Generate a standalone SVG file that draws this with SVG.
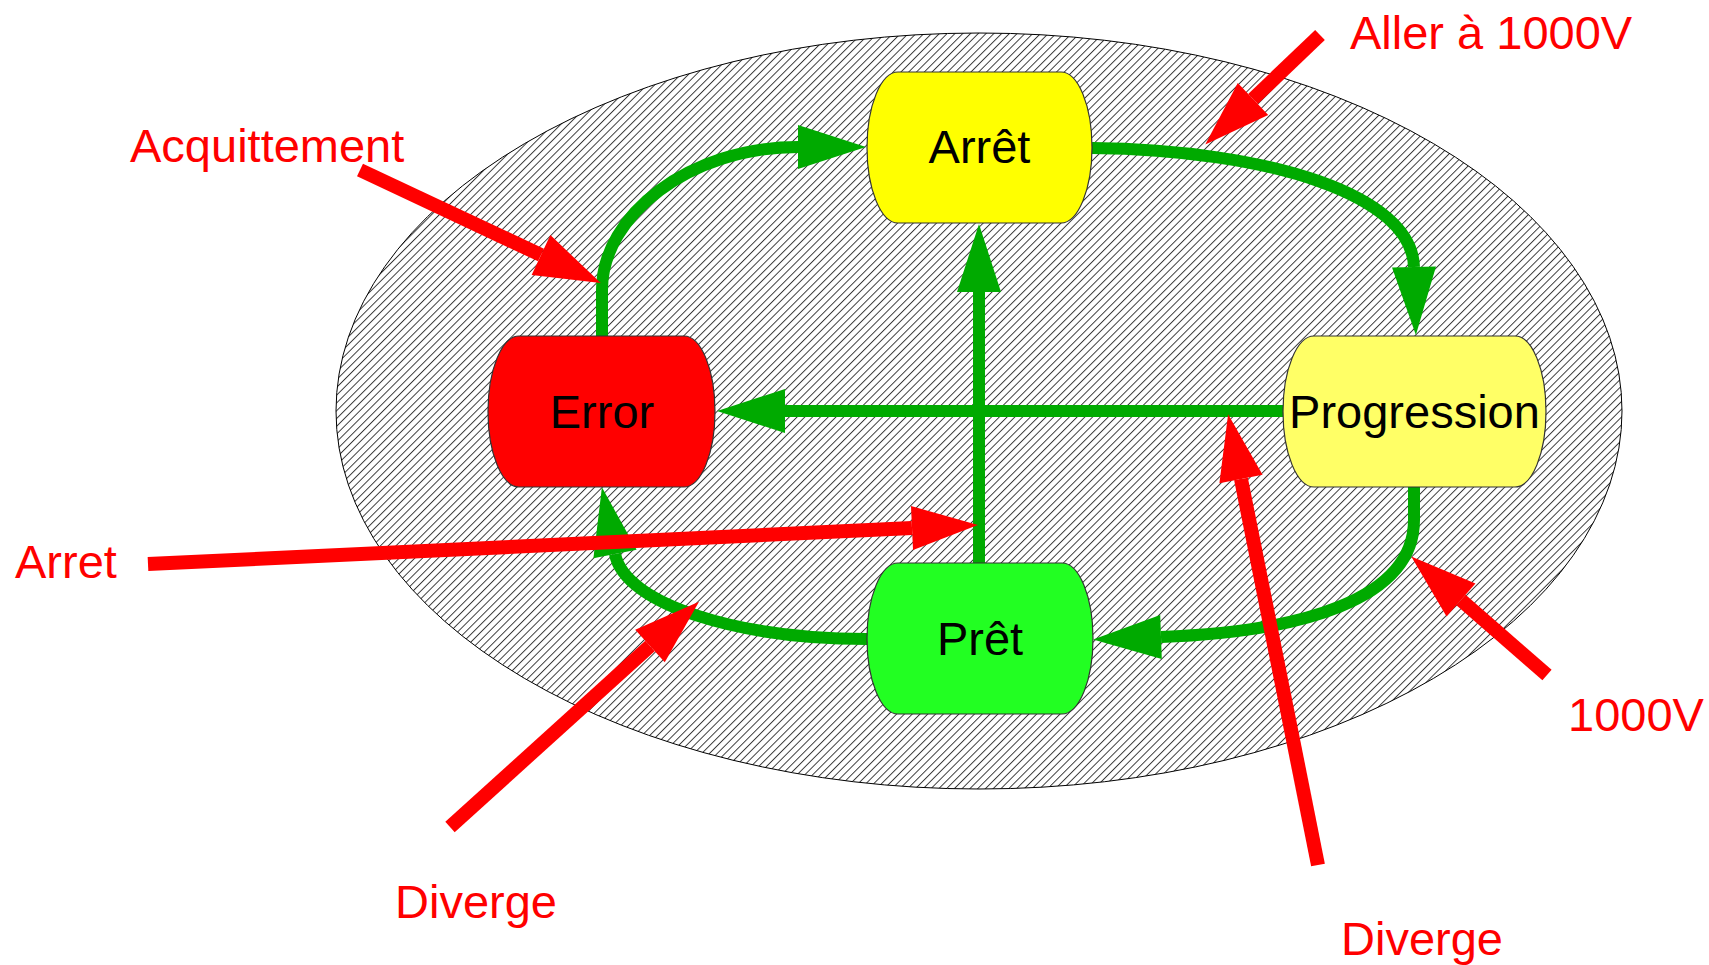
<svg xmlns="http://www.w3.org/2000/svg" width="1709" height="965" viewBox="0 0 1709 965">
  <defs>
    <pattern id="hatch" patternUnits="userSpaceOnUse" width="5.5" height="5.5" patternTransform="rotate(-45)">
      <rect width="5.5" height="5.5" fill="#ffffff"/>
      <line x1="-1" y1="0.5" x2="6.5" y2="0.5" stroke="#000000" stroke-width="0.75"/>
    </pattern>
    <marker id="g-head" markerUnits="userSpaceOnUse" markerWidth="70" markerHeight="46" refX="0" refY="22" orient="auto" overflow="visible">
      <path d="M0,0 L68,22 L0,44 Z" fill="#00aa00"/>
    </marker>
    <marker id="r-head" markerUnits="userSpaceOnUse" markerWidth="70" markerHeight="46" refX="0" refY="22" orient="auto" overflow="visible">
      <path d="M0,0 L66,22 L0,44 Z" fill="#ff0000"/>
    </marker>
  </defs>
  <style>
    .state { stroke: #333333; stroke-width: 1.2; }
    .state-label { font-family: "Liberation Sans", Arial, sans-serif; font-size: 47px; fill: #000000; text-anchor: middle; }
    .note { font-family: "Liberation Sans", Arial, sans-serif; font-size: 47px; fill: #ff0000; }
    .transition { fill: none; stroke: #00aa00; stroke-width: 12; marker-end: url(#g-head); }
    .pointer { fill: none; stroke: #ff0000; stroke-width: 14; marker-end: url(#r-head); }
  </style>

  <rect width="1709" height="965" fill="#ffffff"/>

  <!-- hatched background zone -->
  <ellipse id="zone" cx="979" cy="411" rx="643" ry="378" fill="url(#hatch)" stroke="#000000" stroke-width="1"/>

  <!-- state transitions -->
  <g id="transitions">
    <path class="transition" d="M602,336 V290 C602,215 690,147 798,147"/>
    <path class="transition" d="M1092,148 C1270,150 1412,195 1414,267"/>
    <path class="transition" d="M1414,487 V520 C1414,600 1300,632 1161,637"/>
    <path class="transition" d="M1283,411 H785"/>
    <path class="transition" d="M979,563 V292"/>
    <path class="transition" d="M867,639 C740,639 625,605 615,554"/>
  </g>

  <!-- states -->
  <g id="arret">
    <path class="state" fill="#ffff00" d="M898,72 H1061 A31,75.5 0 0 1 1061,223 H898 A31,75.5 0 0 1 898,72 Z"/>
    <text class="state-label" x="979.5" y="163">Arrêt</text>
  </g>
  <g id="error">
    <path class="state" fill="#ff0000" d="M519,336 H684 A31,75.5 0 0 1 684,487 H519 A31,75.5 0 0 1 519,336 Z"/>
    <text class="state-label" x="602" y="428">Error</text>
  </g>
  <g id="progression">
    <path class="state" fill="#ffff66" d="M1314,336 H1515 A31,75.5 0 0 1 1515,487 H1314 A31,75.5 0 0 1 1314,336 Z"/>
    <text class="state-label" x="1414.5" y="428">Progression</text>
  </g>
  <g id="pret">
    <path class="state" fill="#22ff22" d="M898,563 H1062 A31,75.5 0 0 1 1062,714 H898 A31,75.5 0 0 1 898,563 Z"/>
    <text class="state-label" x="980" y="655">Prêt</text>
  </g>

  <!-- event pointers -->
  <g id="pointers">
    <path class="pointer" d="M360,170 L541,255"/>
    <path class="pointer" d="M1320,35 L1253,99"/>
    <path class="pointer" d="M148,564 L912,528"/>
    <path class="pointer" d="M450,827 L650,646"/>
    <path class="pointer" d="M1318,865 L1241,479"/>
    <path class="pointer" d="M1547,675 L1461,600"/>
  </g>

  <!-- event labels -->
  <g id="label-acquittement"><text class="note" x="130" y="162">Acquittement</text></g>
  <g id="label-aller"><text class="note" x="1350" y="49">Aller à 1000V</text></g>
  <g id="label-arret"><text class="note" x="15" y="578">Arret</text></g>
  <g id="label-diverge-left"><text class="note" x="395" y="918">Diverge</text></g>
  <g id="label-diverge-right"><text class="note" x="1341" y="955">Diverge</text></g>
  <g id="label-1000v"><text class="note" x="1568" y="731">1000V</text></g>
</svg>
